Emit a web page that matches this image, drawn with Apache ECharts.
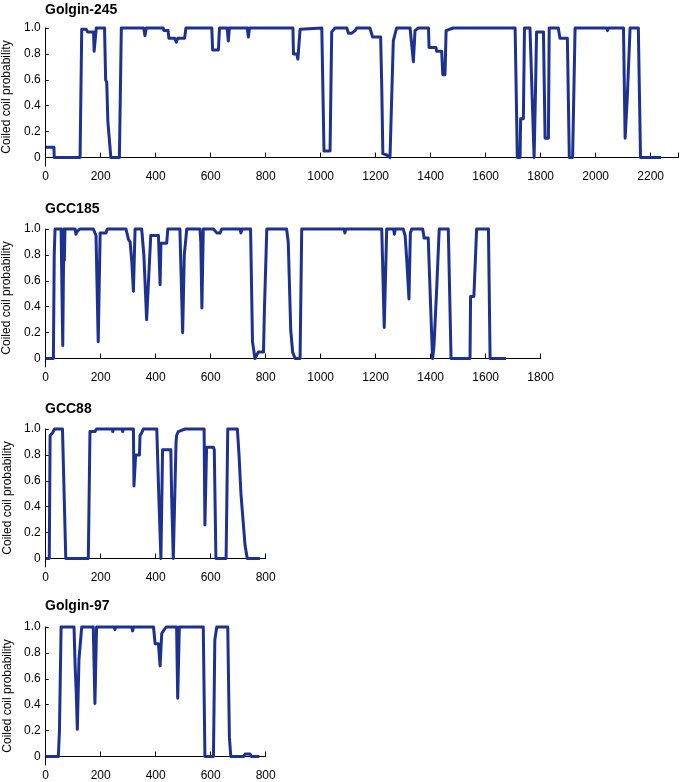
<!DOCTYPE html>
<html>
<head>
<meta charset="utf-8">
<script src="https://cdn.jsdelivr.net/npm/echarts@6/dist/echarts.min.js"></script>
<style>
  html, body { margin: 0; padding: 0; background: #fff; }
  #chart { width: 680px; height: 782px; }
</style>
</head>
<body>
<div id="chart"></div>
<script>
// protein names (panel titles)
const proteins = ['Golgin-245', 'GCC185', 'GCC88', 'Golgin-97'];

// residue positions and coiled coil probability
const golgin245Pos = [0, 30, 31, 125, 131, 147, 152, 174, 176, 181, 184, 214, 218, 222, 226, 233, 237, 268, 275, 356,
  361, 366, 427, 430, 445, 448, 469, 475, 480, 505, 510, 604, 607, 628, 632, 660, 664, 668, 733, 737,
  741, 800, 804, 808, 899, 901, 913, 917, 925, 1004, 1012, 1034, 1040, 1052, 1095, 1101, 1113, 1125, 1131, 1179,
  1189, 1218, 1222, 1226, 1240, 1252, 1258, 1264, 1276, 1325, 1337, 1343, 1355, 1392, 1394, 1419, 1422, 1440, 1444, 1452,
  1456, 1482, 1707, 1715, 1725, 1727, 1737, 1741, 1761, 1776, 1781, 1785, 1810, 1816, 1828, 1831, 1864, 1870, 1897, 1904,
  1916, 1925, 2040, 2043, 2046, 2101, 2107, 2115, 2125, 2155, 2163, 2238];
const golgin245Prob = [0.08, 0.08, 0, 0, 0.99, 0.99, 0.97, 0.97, 0.82, 0.82, 1.0, 1.0, 0.6, 0.58, 0.28, 0.28, 0, 0, 1.0, 1.0,
  0.94, 1.0, 1.0, 0.98, 0.98, 0.92, 0.92, 0.89, 0.92, 0.92, 1.0, 1.0, 0.83, 0.83, 1.0, 1.0, 0.9, 1.0, 1.0, 0.93,
  1.0, 1.0, 0.99, 1.0, 1.0, 0.8, 0.8, 0.76, 0.99, 1.0, 0.05, 0.05, 0.97, 1.0, 1.0, 0.96, 0.96, 0.98, 1.0, 1.0,
  0.93, 0.93, 0.55, 0.03, 0.02, 0, 0, 0.9, 1.0, 1.0, 0.74, 0.98, 1.0, 1.0, 0.85, 0.85, 0.82, 0.82, 0.64, 0.64,
  0.98, 1.0, 1.0, 0, 0, 0.3, 0.3, 1.0, 1.0, 0, 0.5, 0.97, 0.97, 0.15, 0.15, 1.0, 1.0, 0.92, 0.92, 0,
  0, 1.0, 1.0, 0.98, 1.0, 1.0, 0.15, 0.47, 1.0, 1.0, 0, 0];

const gcc185Pos = [0, 28, 31, 34, 56, 62, 66, 68, 70, 107, 110, 114, 120, 124, 173, 183, 191, 198, 219, 224,
  292, 301, 307, 313, 319, 325, 349, 357, 367, 373, 382, 410, 416, 419, 440, 444, 488, 498, 504, 513,
  561, 564, 568, 573, 610, 622, 634, 640, 707, 710, 714, 745, 752, 761, 767, 773, 792, 795, 800, 804,
  876, 882, 891, 898, 907, 925, 931, 1085, 1088, 1091, 1222, 1231, 1240, 1265, 1268, 1271, 1300, 1307, 1313, 1321,
  1326, 1331, 1371, 1376, 1391, 1403, 1407, 1412, 1422, 1431, 1464, 1474, 1543, 1545, 1557, 1567, 1610, 1616, 1674];
const gcc185Prob = [0, 0, 0.8, 1.0, 1.0, 0.1, 1.0, 0.76, 1.0, 1.0, 0.96, 0.98, 0.98, 1.0, 1.0, 0.95, 0.13, 0.97, 0.97, 1.0,
  1.0, 0.92, 0.9, 0.75, 0.52, 1.0, 1.0, 0.8, 0.3, 0.3, 0.95, 0.95, 0.57, 0.89, 0.89, 1.0, 1.0, 0.2, 0.8, 1.0,
  1.0, 0.9, 0.39, 1.0, 1.0, 0.97, 0.97, 1.0, 1.0, 0.97, 1.0, 1.0, 0.13, 0, 0, 0.05, 0.05, 0.35, 0.35, 1.0,
  1.0, 0.9, 0.22, 0.05, 0, 0, 1.0, 1.0, 0.97, 1.0, 1.0, 0.24, 1.0, 1.0, 0.96, 1.0, 1.0, 0.95, 0.76, 0.46,
  0.97, 1.0, 1.0, 0.93, 0.93, 0.21, 0, 0.1, 0.55, 1.0, 1.0, 0, 0, 0.48, 0.48, 1.0, 1.0, 0, 0];

const gcc88Pos = [0, 13, 16, 25, 32, 61, 73, 155, 161, 179, 185, 242, 244, 246, 278, 280, 282, 319, 321, 327,
  341, 343, 349, 355, 404, 411, 419, 425, 455, 458, 464, 470, 474, 476, 482, 507, 576, 579, 585, 610,
  613, 619, 656, 662, 697, 703, 710, 716, 725, 733, 779];
const gcc88Prob = [0, 0, 0.95, 0.97, 1.0, 1.0, 0, 0, 0.98, 0.98, 1.0, 1.0, 0.98, 1.0, 1.0, 0.98, 1.0, 1.0, 0.56, 0.8,
  0.8, 0.95, 0.97, 1.0, 1.0, 0.5, 0, 0.84, 0.84, 0.48, 0, 0, 0.9, 0.95, 0.98, 1.0, 1.0, 0.26, 0.86, 0.86,
  0.84, 0, 0, 1.0, 1.0, 0.8, 0.5, 0.34, 0.1, 0, 0];

const golgin97Pos = [0, 46, 50, 56, 103, 107, 111, 115, 121, 127, 131, 173, 179, 185, 249, 252, 255, 313, 316, 319,
  392, 398, 410, 416, 422, 428, 438, 476, 480, 486, 573, 579, 610, 615, 622, 662, 668, 673, 719, 725,
  743, 749, 777];
const golgin97Prob = [0, 0, 0.2, 1.0, 1.0, 0.7, 0.5, 0.21, 0.75, 0.75, 1.0, 1.0, 0.41, 1.0, 1.0, 0.98, 1.0, 1.0, 0.97, 1.0,
  1.0, 0.87, 0.87, 0.7, 0.95, 0.97, 1.0, 1.0, 0.45, 1.0, 1.0, 0, 0, 0.9, 1.0, 1.0, 0.15, 0, 0, 0.02,
  0.02, 0, 0];

// axis ranges and tick labels
const xMaxes = [2300, 1800, 800, 800];
const xTicks = [
  [0, 200, 400, 600, 800, 1000, 1200, 1400, 1600, 1800, 2000, 2200],
  [0, 200, 400, 600, 800, 1000, 1200, 1400, 1600, 1800],
  [0, 200, 400, 600, 800],
  [0, 200, 400, 600, 800]
];
const yTicks = [0, 0.2, 0.4, 0.6, 0.8, 1.0];
const yAxisTitle = 'Coiled coil probability';

const positions = [golgin245Pos, gcc185Pos, gcc88Pos, golgin97Pos];
const probs = [golgin245Prob, gcc185Prob, gcc88Prob, golgin97Prob];

const FONT = 'Liberation Sans, Arial, Helvetica, sans-serif';
const LINE_COLOR = '#1d3191';
const pxPerUnit = 0.275;
const panelTops = [28, 229, 429, 627];
const titleTops = [3, 202, 402, 599];
const plotH = 138;

const chart = echarts.init(document.getElementById('chart'), null, { renderer: 'canvas' });

const option = {
  backgroundColor: '#fff',
  animation: false,
  title: proteins.map((name, i) => ({
    text: name,
    left: 45,
    top: titleTops[i],
    padding: 0,
    textStyle: { fontFamily: FONT, fontSize: 14, fontWeight: 'bold', color: '#000' }
  })),
  grid: proteins.map((name, i) => ({
    left: 45.7,
    top: panelTops[i],
    width: xMaxes[i] * pxPerUnit,
    height: plotH,
    containLabel: false,
    outerBoundsMode: 'none'
  })),
  xAxis: proteins.map((name, i) => ({
    type: 'value',
    gridIndex: i,
    min: 0,
    max: xMaxes[i],
    axisLine: { lineStyle: { color: '#000', width: 1 } },
    axisTick: {
      inside: true,
      length: 5,
      lineStyle: { color: '#000' },
      customValues: xTicks[i].concat(xMaxes[i] > xTicks[i][xTicks[i].length - 1] ? [xMaxes[i]] : [])
    },
    axisLabel: {
      customValues: xTicks[i],
      margin: 5,
      color: '#000',
      fontFamily: FONT,
      fontSize: 12,
      formatter: v => String(v)
    },
    splitLine: { show: false }
  })),
  yAxis: proteins.map((name, i) => ({
    type: 'value',
    gridIndex: i,
    min: -0.065,
    max: 1.0,
    name: yAxisTitle,
    nameLocation: 'middle',
    nameGap: 32,
    nameTextStyle: { fontFamily: FONT, fontSize: 12, color: '#000' },
    axisLine: { show: true, lineStyle: { color: '#000', width: 1 } },
    axisTick: {
      inside: true,
      length: 3,
      lineStyle: { color: '#000' },
      customValues: yTicks
    },
    axisLabel: {
      customValues: yTicks,
      margin: 5,
      color: '#000',
      fontFamily: FONT,
      fontSize: 12,
      formatter: v => (v === 0 ? '0' : v.toFixed(1))
    },
    splitLine: { show: false }
  })),
  series: proteins.map((name, i) => ({
    name: name,
    type: 'line',
    xAxisIndex: i,
    yAxisIndex: i,
    data: positions[i].map((p, k) => [p, probs[i][k]]),
    showSymbol: false,
    clip: false,
    lineStyle: { color: LINE_COLOR, width: 3, join: 'round' },
    itemStyle: { color: LINE_COLOR }
  }))
};

chart.setOption(option);
</script>
</body>
</html>
